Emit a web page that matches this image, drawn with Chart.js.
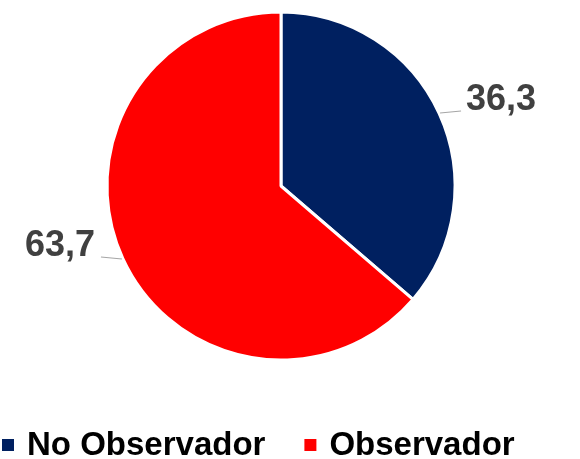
<!DOCTYPE html>
<html>
<head>
<meta charset="utf-8">
<script src="https://cdn.jsdelivr.net/npm/chart.js@4"></script>
<style>
  html, body { margin: 0; padding: 0; background: #fff; }
  #wrap { width: 580px; height: 459px; position: relative; }
</style>
</head>
<body>
<div id="wrap"><canvas id="grafico"></canvas></div>
<script>
const categorias = ["No Observador", "Observador"];
const valores = [36.3, 63.7];
const colores = ["#002060", "#FF0000"];

const FUENTE = "'Liberation Sans', Arial, sans-serif";

// etiquetas con linea guia, estilo Excel
const etiquetasPlugin = {
  id: "etiquetas",
  afterDatasetsDraw(chart) {
    const ctx = chart.ctx;
    const meta = chart.getDatasetMeta(0);
    ctx.save();
    meta.data.forEach((arc, i) => {
      const p = arc.getProps(["x", "y", "startAngle", "endAngle", "outerRadius"], true);
      const mid = (p.startAngle + p.endAngle) / 2;
      const ex = p.x + Math.cos(mid) * (p.outerRadius + 1);
      const ey = p.y + Math.sin(mid) * (p.outerRadius + 1);
      const derecha = Math.cos(mid) >= 0;
      const fx = ex + (derecha ? 21 : -21);
      const fy = ey - 2;
      ctx.strokeStyle = "#A6A6A6";
      ctx.lineWidth = 1.2;
      ctx.beginPath();
      ctx.moveTo(ex, ey);
      ctx.lineTo(fx, fy);
      ctx.stroke();
      ctx.fillStyle = "#404040";
      ctx.font = "bold 36px " + FUENTE;
      ctx.textBaseline = "alphabetic";
      ctx.textAlign = derecha ? "left" : "right";
      const texto = valores[i].toFixed(1).replace(".", ",");
      ctx.fillText(texto, fx + (derecha ? 5 : -6), fy - 1);
    });
    ctx.restore();
  },
};

// leyenda inferior dibujada en el canvas
const leyendaPlugin = {
  id: "leyendaAbajo",
  afterDraw(chart) {
    const ctx = chart.ctx;
    ctx.save();
    ctx.font = "bold 33px " + FUENTE;
    ctx.textBaseline = "alphabetic";
    ctx.textAlign = "left";
    let x = 2;
    const base = 455;
    categorias.forEach((cat, i) => {
      ctx.fillStyle = colores[i];
      ctx.fillRect(x, 439, 12, 12);
      ctx.fillStyle = "#000000";
      ctx.fillText(cat, x + 25, base);
      x += 25 + ctx.measureText(cat).width + 39;
    });
    ctx.restore();
  },
};

new Chart(document.getElementById("grafico"), {
  type: "pie",
  data: {
    labels: categorias,
    datasets: [
      {
        data: valores,
        backgroundColor: colores,
        borderColor: "#FFFFFF",
        borderWidth: 3,
        radius: 174,
      },
    ],
  },
  options: {
    responsive: true,
    maintainAspectRatio: false,
    animation: false,
    layout: { padding: { left: 0, right: 18, top: 0, bottom: 87 } },
    plugins: {
      legend: { display: false },
      tooltip: { enabled: false },
    },
  },
  plugins: [etiquetasPlugin, leyendaPlugin],
});
</script>
</body>
</html>
